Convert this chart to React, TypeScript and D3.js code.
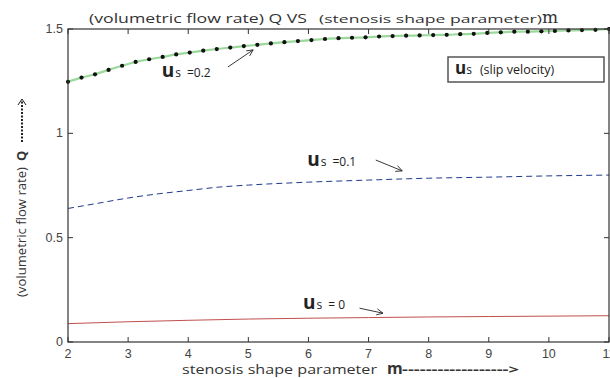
import React from "react";
import * as d3 from "d3";

// stenosis shape parameter m (x) and volumetric flow rate Q for three slip velocities
const mSlip02 = [
  2.0, 2.225, 2.45, 2.675, 2.9, 3.125, 3.35, 3.575, 3.8, 4.025, 4.25, 4.475, 4.7, 4.925,
  5.15, 5.375, 5.6, 5.825, 6.05, 6.275, 6.5, 6.725, 6.95, 7.175, 7.4, 7.625, 7.85, 8.075,
  8.3, 8.525, 8.75, 8.975, 9.2, 9.425, 9.65, 9.875, 10.1, 10.325, 10.55, 10.775, 11.0,
];
const qSlip02 = [
  1.247, 1.267, 1.283, 1.304, 1.324, 1.342, 1.355, 1.366, 1.378, 1.387, 1.396, 1.404, 1.411,
  1.418, 1.424, 1.431, 1.437, 1.442, 1.447, 1.452, 1.456, 1.458, 1.46, 1.464, 1.466, 1.468,
  1.469, 1.471, 1.472, 1.475, 1.477, 1.481, 1.484, 1.487, 1.487, 1.489, 1.491, 1.493, 1.495,
  1.496, 1.5,
];
const mSlip01 = [2, 2.5, 3, 3.5, 4, 4.5, 5, 6, 7, 8, 9, 10, 11];
const qSlip01 = [0.64, 0.665, 0.69, 0.71, 0.726, 0.742, 0.752, 0.766, 0.776, 0.785, 0.79, 0.796, 0.8];
const mSlip00 = [2, 3, 4, 5, 6, 7, 8, 9, 10, 11];
const qSlip00 = [0.088, 0.097, 0.104, 0.11, 0.114, 0.117, 0.12, 0.122, 0.124, 0.126];

const xTicks = [2, 3, 4, 5, 6, 7, 8, 9, 10, 11];
const yTicks = [0, 0.5, 1, 1.5];
const yTickLabels = ["0", "0.5", "1", "1.5"];

const W = 610;
const H = 378;
const plot = { left: 68, right: 609, top: 29, bottom: 342 };

const x = d3.scaleLinear().domain([2, 11]).range([plot.left, plot.right]);
const y = d3.scaleLinear().domain([0, 1.5]).range([plot.bottom, plot.top]);

const line = d3
  .line<[number, number]>()
  .x((d) => x(d[0]))
  .y((d) => y(d[1]))
  .curve(d3.curveMonotoneX);

const zip = (a: number[], b: number[]): [number, number][] => a.map((v, i) => [v, b[i]]);

const sans = "'Open Sans', 'Noto Sans', sans-serif";
const tickFont = "'Liberation Sans', Arial, sans-serif";

// open-headed annotation arrow between two data points
function Arrow({ from, to }: { from: [number, number]; to: [number, number] }) {
  const x1 = x(from[0]), y1 = y(from[1]);
  const x2 = x(to[0]), y2 = y(to[1]);
  const ang = Math.atan2(y2 - y1, x2 - x1);
  const hl = 7;
  const a1 = ang + Math.PI - 0.45;
  const a2 = ang + Math.PI + 0.45;
  return (
    <g stroke="#222" strokeWidth={0.9} fill="none">
      <line x1={x1} y1={y1} x2={x2} y2={y2} />
      <polyline
        points={`${x2 + hl * Math.cos(a1)},${y2 + hl * Math.sin(a1)} ${x2},${y2} ${x2 + hl * Math.cos(a2)},${y2 + hl * Math.sin(a2)}`}
      />
    </g>
  );
}

function SlipLabel({ at, value }: { at: [number, number]; value: string }) {
  return (
    <text x={x(at[0])} y={y(at[1])} fontFamily={sans} fill="#222">
      <tspan fontSize={19} fontWeight={700}>u</tspan>
      <tspan fontSize={12} dx={1}>s</tspan>
      <tspan fontSize={12} dx={6}>{value}</tspan>
    </text>
  );
}

export default function App() {
  const d02 = zip(mSlip02, qSlip02);
  const d01 = zip(mSlip01, qSlip01);
  const d00 = zip(mSlip00, qSlip00);

  return (
    <svg
      width={W}
      height={H}
      style={{ position: "absolute", left: 0, top: 0, background: "#fff" }}
    >
      <rect x={0} y={0} width={W} height={H} fill="#fff" />

      {/* title */}
      <text y={23} fontFamily={sans} fill="#333">
        <tspan x={89} fontSize={12.5} textLength={218} lengthAdjust="spacingAndGlyphs">
          (volumetric flow rate) Q VS
        </tspan>
        <tspan x={319} fontSize={11.5} textLength={223} lengthAdjust="spacingAndGlyphs">
          (stenosis shape parameter)
        </tspan>
        <tspan x={542} fontSize={17} fontFamily="'DejaVu Serif', serif">m</tspan>
      </text>

      {/* series */}
      <path d={line(d00) || ""} fill="none" stroke="#c0504d" strokeWidth={1} />
      <path d={line(d01) || ""} fill="none" stroke="#1f3a8a" strokeWidth={1} strokeDasharray="6,4" />
      <path d={line(d02) || ""} fill="none" stroke="#9ad99a" strokeWidth={2.2} />
      {d02.map((d, i) => (
        <circle key={i} cx={x(d[0])} cy={y(d[1])} r={2.1} fill="#111" />
      ))}

      {/* axes frame */}
      <rect
        x={plot.left}
        y={plot.top}
        width={plot.right - plot.left}
        height={plot.bottom - plot.top}
        fill="none"
        stroke="#333"
        strokeWidth={1.2}
      />
      {xTicks.map((t) => (
        <g key={`x${t}`}>
          <line x1={x(t)} x2={x(t)} y1={plot.bottom} y2={plot.bottom - 5} stroke="#333" />
          <line x1={x(t)} x2={x(t)} y1={plot.top} y2={plot.top + 5} stroke="#333" />
          <text
            x={x(t)}
            y={358}
            textAnchor="middle"
            fontFamily={tickFont}
            fontSize={12.5}
            fill="#444"
          >
            {t}
          </text>
        </g>
      ))}
      {yTicks.map((t, i) => (
        <g key={`y${t}`}>
          <line x1={plot.left} x2={plot.left + 5} y1={y(t)} y2={y(t)} stroke="#333" />
          <line x1={plot.right} x2={plot.right - 5} y1={y(t)} y2={y(t)} stroke="#333" />
          <text
            x={plot.left - 5}
            y={y(t) + 4}
            textAnchor="end"
            fontFamily={tickFont}
            fontSize={12.5}
            fill="#444"
          >
            {yTickLabels[i]}
          </text>
        </g>
      ))}

      {/* x axis label */}
      <text y={374} fontFamily={sans} fill="#333">
        <tspan x={182} fontSize={12} textLength={195} lengthAdjust="spacingAndGlyphs">
          stenosis shape parameter
        </tspan>
        <tspan x={387} fontSize={16} fontWeight={700}>m</tspan>
        <tspan x={402} fontSize={12} fontWeight={700} textLength={117} lengthAdjust="spacingAndGlyphs">
          ------------------&gt;
        </tspan>
      </text>

      {/* y axis label */}
      <g transform="translate(26,297) rotate(-90)">
        <text x={0} y={0} fontFamily={sans} fill="#333" fontSize={12}>
          <tspan textLength={130} lengthAdjust="spacingAndGlyphs">(volumetric flow rate)</tspan>
          <tspan x={136} fontSize={13} fontWeight={700}>Q</tspan>
        </text>
        <line x1={155} x2={197} y1={-4} y2={-4} stroke="#222" strokeWidth={2} strokeDasharray="2,1.5" />
        <polyline points="192,-8 198,-4 192,0" fill="none" stroke="#222" strokeWidth={1} />
      </g>

      {/* series annotations */}
      <SlipLabel at={[3.56, 1.27]} value="=0.2" />
      <Arrow from={[4.66, 1.318]} to={[5.08, 1.4]} />
      <SlipLabel at={[5.98, 0.845]} value="=0.1" />
      <Arrow from={[7.12, 0.872]} to={[7.56, 0.82]} />
      <SlipLabel at={[5.91, 0.158]} value="= 0" />
      <Arrow from={[6.85, 0.162]} to={[7.24, 0.138]} />

      {/* legend */}
      <rect x={448} y={57} width={156} height={25} fill="#fff" stroke="#555" strokeWidth={1.5} />
      <text x={455} y={74} fontFamily={sans} fill="#222">
        <tspan fontSize={17} fontWeight={700}>u</tspan>
        <tspan fontSize={12}>s</tspan>
        <tspan fontSize={12.5} dx={8}>(slip velocity)</tspan>
      </text>
    </svg>
  );
}
